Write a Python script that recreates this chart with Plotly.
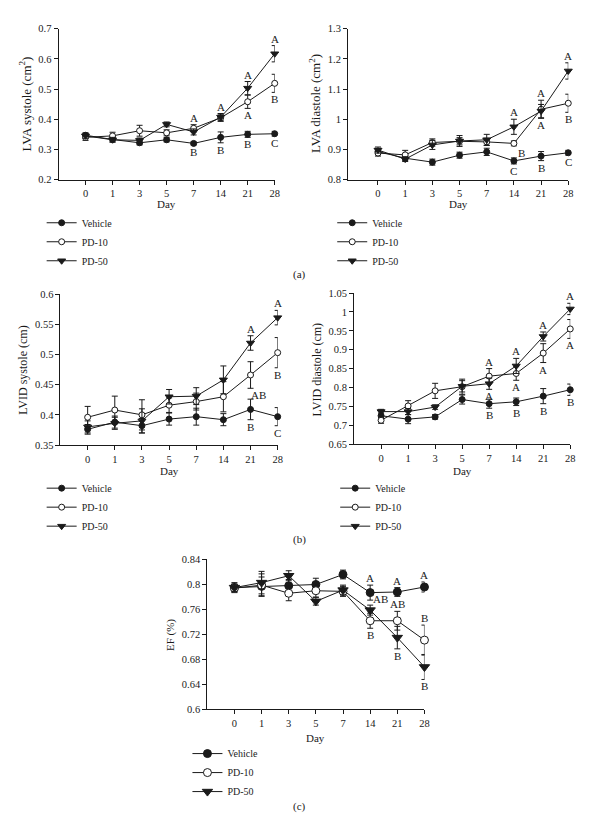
import plotly.graph_objects as go

# ---------------- data ----------------
days = ["0", "1", "3", "5", "7", "14", "21", "28"]
series_names = ["Vehicle", "PD-10", "PD-50"]

# (a) left: LVA systole (cm2)
lva_sys_vehicle = [0.347, 0.333, 0.322, 0.332, 0.320, 0.340, 0.350, 0.352]
lva_sys_vehicle_err = [0.008, 0.008, 0.007, 0.007, 0.005, 0.018, 0.010, 0.008]
lva_sys_pd10 = [0.340, 0.345, 0.362, 0.355, 0.370, 0.405, 0.458, 0.519]
lva_sys_pd10_err = [0.010, 0.012, 0.018, 0.010, 0.012, 0.012, 0.022, 0.030]
lva_sys_pd50 = [0.345, 0.332, 0.330, 0.383, 0.358, 0.407, 0.503, 0.617]
lva_sys_pd50_err = [0.008, 0.008, 0.008, 0.008, 0.010, 0.012, 0.022, 0.027]
lva_sys_ticks = [0.2, 0.3, 0.4, 0.5, 0.6, 0.7]
lva_sys_ticktext = ["0.2", "0.3", "0.4", "0.5", "0.6", "0.7"]
lva_sys_letters = [
    ("7", "PD-10", "above", "A"), ("7", "Vehicle", "below", "B"),
    ("14", "PD-50", "above", "A"), ("14", "Vehicle", "below", "B"),
    ("21", "PD-50", "above", "A"), ("21", "PD-10", "below", "A"), ("21", "Vehicle", "below", "B"),
    ("28", "PD-50", "above", "A"), ("28", "PD-10", "below", "B"), ("28", "Vehicle", "below", "C"),
]

# (a) right: LVA diastole (cm2)
lva_dia_vehicle = [0.893, 0.871, 0.858, 0.881, 0.892, 0.862, 0.878, 0.889]
lva_dia_vehicle_err = [0.010, 0.008, 0.010, 0.010, 0.012, 0.010, 0.015, 0.008]
lva_dia_pd10 = [0.888, 0.882, 0.923, 0.927, 0.925, 0.920, 1.033, 1.053]
lva_dia_pd10_err = [0.010, 0.015, 0.012, 0.012, 0.012, 0.008, 0.030, 0.030]
lva_dia_pd50 = [0.898, 0.868, 0.915, 0.928, 0.932, 0.975, 1.027, 1.160]
lva_dia_pd50_err = [0.010, 0.008, 0.015, 0.018, 0.018, 0.025, 0.022, 0.027]
lva_dia_ticks = [0.8, 0.9, 1.0, 1.1, 1.2, 1.3]
lva_dia_ticktext = ["0.8", "0.9", "1", "1.1", "1.2", "1.3"]
lva_dia_letters = [
    ("14", "PD-50", "above", "A"), ("14", "PD-10", "belowright", "B"), ("14", "Vehicle", "below", "C"),
    ("21", "PD-10", "above", "A"), ("21", "PD-50", "below", "A"), ("21", "Vehicle", "below", "B"),
    ("28", "PD-50", "above", "A"), ("28", "PD-10", "below", "B"), ("28", "Vehicle", "below", "C"),
]

# (b) left: LVID systole (cm)
lvid_sys_vehicle = [0.376, 0.388, 0.382, 0.393, 0.397, 0.392, 0.409, 0.397]
lvid_sys_vehicle_err = [0.008, 0.010, 0.012, 0.010, 0.014, 0.010, 0.017, 0.015]
lvid_sys_pd10 = [0.396, 0.408, 0.400, 0.416, 0.422, 0.430, 0.466, 0.503]
lvid_sys_pd10_err = [0.018, 0.023, 0.025, 0.012, 0.014, 0.025, 0.022, 0.025]
lvid_sys_pd50 = [0.380, 0.386, 0.390, 0.430, 0.431, 0.458, 0.519, 0.561]
lvid_sys_pd50_err = [0.010, 0.010, 0.020, 0.012, 0.014, 0.023, 0.012, 0.012]
lvid_sys_ticks = [0.35, 0.40, 0.45, 0.50, 0.55, 0.60]
lvid_sys_ticktext = ["0.35", "0.4", "0.45", "0.5", "0.55", "0.6"]
lvid_sys_letters = [
    ("21", "PD-50", "above", "A"), ("21", "PD-10", "belowright", "AB"), ("21", "Vehicle", "below", "B"),
    ("28", "PD-50", "above", "A"), ("28", "PD-10", "below", "B"), ("28", "Vehicle", "below", "C"),
]

# (b) right: LVID diastole (cm)
lvid_dia_vehicle = [0.725, 0.716, 0.722, 0.768, 0.757, 0.762, 0.777, 0.794]
lvid_dia_vehicle_err = [0.010, 0.012, 0.006, 0.012, 0.012, 0.010, 0.020, 0.015]
lvid_dia_pd10 = [0.713, 0.751, 0.791, 0.802, 0.830, 0.837, 0.891, 0.955]
lvid_dia_pd10_err = [0.008, 0.014, 0.020, 0.020, 0.020, 0.018, 0.025, 0.025]
lvid_dia_pd50 = [0.736, 0.736, 0.748, 0.803, 0.810, 0.857, 0.935, 1.008]
lvid_dia_pd50_err = [0.006, 0.008, 0.006, 0.015, 0.015, 0.020, 0.012, 0.015]
lvid_dia_ticks = [0.65, 0.70, 0.75, 0.80, 0.85, 0.90, 0.95, 1.00, 1.05]
lvid_dia_ticktext = ["0.65", "0.7", "0.75", "0.8", "0.85", "0.9", "0.95", "1", "1.05"]
lvid_dia_letters = [
    ("7", "PD-10", "above", "A"), ("7", "PD-50", "below", "A"), ("7", "Vehicle", "below", "B"),
    ("14", "PD-50", "above", "A"), ("14", "PD-10", "below", "A"), ("14", "Vehicle", "below", "B"),
    ("21", "PD-50", "above", "A"), ("21", "PD-10", "below", "A"), ("21", "Vehicle", "below", "B"),
    ("28", "PD-50", "above", "A"), ("28", "PD-10", "below", "A"), ("28", "Vehicle", "below", "B"),
]

# (c): EF (%)
ef_vehicle = [0.795, 0.797, 0.798, 0.800, 0.816, 0.787, 0.788, 0.796]
ef_vehicle_err = [0.008, 0.015, 0.010, 0.010, 0.007, 0.012, 0.007, 0.008]
ef_pd10 = [0.794, 0.799, 0.786, 0.790, 0.789, 0.742, 0.742, 0.711]
ef_pd10_err = [0.006, 0.018, 0.012, 0.010, 0.008, 0.012, 0.015, 0.024]
ef_pd50 = [0.795, 0.803, 0.814, 0.773, 0.791, 0.759, 0.715, 0.668]
ef_pd50_err = [0.006, 0.018, 0.008, 0.006, 0.008, 0.008, 0.018, 0.020]
ef_ticks = [0.60, 0.64, 0.68, 0.72, 0.76, 0.80, 0.84]
ef_ticktext = ["0.6", "0.64", "0.68", "0.72", "0.76", "0.8", "0.84"]
ef_letters = [
    ("14", "Vehicle", "above", "A"), ("14", "PD-50", "aboveright", "AB"), ("14", "PD-10", "below", "B"),
    ("21", "Vehicle", "above", "A"), ("21", "PD-10", "above", "AB"), ("21", "PD-50", "below", "B"),
    ("28", "Vehicle", "above", "A"), ("28", "PD-10", "above", "B"), ("28", "PD-50", "below", "B"),
]

# ---------------- layout helpers ----------------
W, H = 605, 824
FONT = "Liberation Serif, Times New Roman, serif"
FS = 10.5
INK = "#1a1a1a"


def px_x(p):
    return p / W


def px_y(p):
    return 1 - p / H


panels = [
    dict(ax="", title="LVA systole (cm<sup>2</sup>)", xd=(59, 277), yd=(24, 177), xr=(-1, 7),
         yr=(0.2, 0.7), ticks=lva_sys_ticks, ticktext=lva_sys_ticktext,
         data=[(lva_sys_vehicle, lva_sys_vehicle_err), (lva_sys_pd10, lva_sys_pd10_err),
               (lva_sys_pd50, lva_sys_pd50_err)],
         letters=lva_sys_letters, legend="legend", leg=(42, 206), ytitle=(25, 100), daytitle=(168, 202),
         msize=6, tfs=13),
    dict(ax="2", title="LVA diastole (cm<sup>2</sup>)", xd=(351, 573), yd=(24, 177), xr=(-1.1, 7),
         yr=(0.8, 1.3), ticks=lva_dia_ticks, ticktext=lva_dia_ticktext,
         data=[(lva_dia_vehicle, lva_dia_vehicle_err), (lva_dia_pd10, lva_dia_pd10_err),
               (lva_dia_pd50, lva_dia_pd50_err)],
         letters=lva_dia_letters, legend="legend2", leg=(335, 206), ytitle=(317, 100), daytitle=(462, 202),
         msize=6, tfs=13),
    dict(ax="3", title="LVID systole (cm)", xd=(61, 280), yd=(293, 446), xr=(-1, 7),
         yr=(0.35, 0.6), ticks=lvid_sys_ticks, ticktext=lvid_sys_ticktext,
         data=[(lvid_sys_vehicle, lvid_sys_vehicle_err), (lvid_sys_pd10, lvid_sys_pd10_err),
               (lvid_sys_pd50, lvid_sys_pd50_err)],
         letters=lvid_sys_letters, legend="legend3", leg=(42, 475), ytitle=(23, 370), daytitle=(171, 472),
         msize=6, tfs=12),
    dict(ax="4", title="LVID diastole (cm)", xd=(357, 575), yd=(292, 445), xr=(-1, 7),
         yr=(0.65, 1.05), ticks=lvid_dia_ticks, ticktext=lvid_dia_ticktext,
         data=[(lvid_dia_vehicle, lvid_dia_vehicle_err), (lvid_dia_pd10, lvid_dia_pd10_err),
               (lvid_dia_pd50, lvid_dia_pd50_err)],
         letters=lvid_dia_letters, legend="legend4", leg=(338, 475), ytitle=(320, 369), daytitle=(466, 472),
         msize=6, tfs=12),
    dict(ax="5", title="EF (%)", xd=(209, 428), yd=(562, 714), xr=(-1, 7),
         yr=(0.6, 0.84), ticks=ef_ticks, ticktext=ef_ticktext,
         data=[(ef_vehicle, ef_vehicle_err), (ef_pd10, ef_pd10_err), (ef_pd50, ef_pd50_err)],
         letters=ef_letters, legend="legend5", leg=(189, 744), ytitle=(172, 639), daytitle=(318, 743),
         msize=8, tfs=11),
]

panel_labels = [("(a)", 302, 273), ("(b)", 302, 542), ("(c)", 302, 812)]

styles = {
    "Vehicle": dict(symbol="circle", color=INK, line=dict(color=INK, width=1)),
    "PD-10": dict(symbol="circle", color="white", line=dict(color=INK, width=1)),
    "PD-50": dict(symbol="triangle-down", color=INK, line=dict(color=INK, width=1)),
}

fig = go.Figure()
annotations = []
layout = dict(
    width=W, height=H, margin=dict(l=0, r=0, t=0, b=0),
    paper_bgcolor="white", plot_bgcolor="white",
    font=dict(family=FONT, size=FS, color=INK),
)

xidx = list(range(len(days)))

for p in panels:
    a = p["ax"]
    xa, ya = "x" + a, "y" + a
    for name, (vals, errs) in zip(series_names, p["data"]):
        st = styles[name]
        fig.add_trace(go.Scatter(
            x=xidx, y=vals, name=name, mode="lines+markers",
            xaxis=xa, yaxis=ya, legend=p["legend"], cliponaxis=False,
            line=dict(color=INK, width=1),
            marker=dict(symbol=st["symbol"], size=p["msize"] + (1 if name == "PD-50" else 0),
                        color=st["color"], line=st["line"]),
            error_y=dict(type="data", array=errs, visible=True, color=INK, thickness=1, width=3),
        ))
    layout["xaxis" + a] = dict(
        domain=[px_x(p["xd"][0]), px_x(p["xd"][1])], range=list(p["xr"]), anchor=ya,
        tickvals=xidx, ticktext=days, ticks="outside", ticklen=4, tickwidth=1, tickcolor=INK,
        showline=True, linecolor=INK, linewidth=1, showgrid=False, zeroline=False,
        tickfont=dict(family=FONT, size=FS, color=INK), fixedrange=True,
    )
    layout["yaxis" + a] = dict(
        domain=[px_y(p["yd"][1]), px_y(p["yd"][0])], range=list(p["yr"]), anchor=xa,
        tickvals=p["ticks"], ticktext=p["ticktext"], ticks="outside", ticklen=4, tickwidth=1,
        tickcolor=INK, showline=True, linecolor=INK, linewidth=1, showgrid=False, zeroline=False,
        tickfont=dict(family=FONT, size=FS, color=INK), fixedrange=True,
    )
    layout[p["legend"]] = dict(
        x=px_x(p["leg"][0]), y=px_y(p["leg"][1]), xanchor="left", yanchor="top",
        bgcolor="rgba(0,0,0,0)", font=dict(family=FONT, size=10, color=INK),
        itemwidth=30, tracegroupgap=0,
    )
    annotations.append(dict(text=p["title"], xref="paper", yref="paper",
                            x=px_x(p["ytitle"][0]), y=px_y(p["ytitle"][1]),
                            textangle=-90, showarrow=False, xanchor="center", yanchor="middle",
                            font=dict(family=FONT, size=p["tfs"], color=INK)))
    annotations.append(dict(text="Day", xref="paper", yref="paper",
                            x=px_x(p["daytitle"][0]), y=px_y(p["daytitle"][1]),
                            showarrow=False, xanchor="center", yanchor="middle",
                            font=dict(family=FONT, size=11, color=INK)))
    lookup = dict(zip(series_names, p["data"]))
    for day, sname, side, txt in p["letters"]:
        i = days.index(day)
        v, e = lookup[sname][0][i], lookup[sname][1][i]
        ann = dict(text=txt, xref=xa, yref=ya, x=i, showarrow=False, xanchor="center",
                   font=dict(family=FONT, size=11, color=INK))
        if side == "above":
            ann.update(y=v + e, yanchor="bottom", yshift=-1)
        elif side == "below":
            ann.update(y=v - e, yanchor="top", yshift=1)
        elif side == "belowright":
            ann.update(y=v - e, yanchor="top", yshift=1, xshift=8)
        elif side == "aboveright":
            ann.update(y=v + e, yanchor="bottom", yshift=-2, xshift=10)
        annotations.append(ann)

for txt, x, y in panel_labels:
    annotations.append(dict(text=txt, xref="paper", yref="paper", x=px_x(x), y=px_y(y),
                            showarrow=False, xanchor="center", yanchor="middle",
                            font=dict(family=FONT, size=11, color=INK)))

layout["annotations"] = annotations
layout["showlegend"] = True
fig.update_layout(**layout)
fig.write_html("out.html", config={"displayModeBar": False},
               post_script="document.body.style.margin='0';")
